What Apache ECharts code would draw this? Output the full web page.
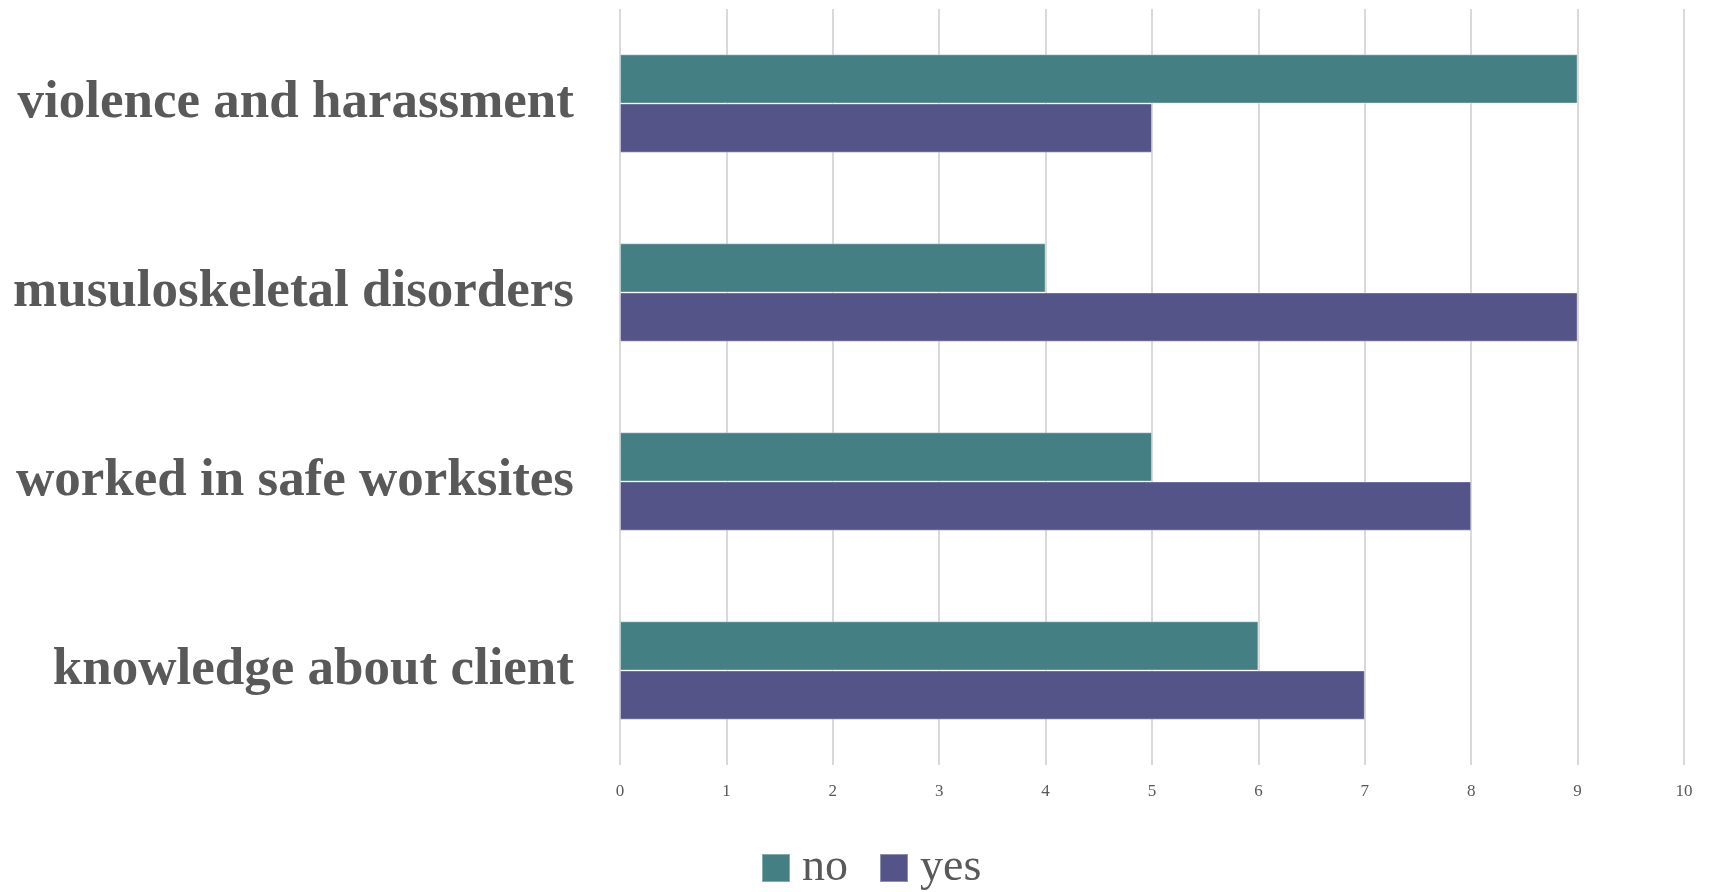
<!DOCTYPE html>
<html>
<head>
<meta charset="utf-8">
<script src="https://cdn.jsdelivr.net/npm/echarts@6/dist/echarts.min.js"></script>
<style>
  html, body { margin: 0; padding: 0; background: #fff; }
  #chart { width: 1709px; height: 892px; }
</style>
</head>
<body>
<div id="chart"></div>
<script>
    // categories top to bottom
    const categories = ['violence and harassment', 'musuloskeletal disorders', 'worked in safe worksites', 'knowledge about client']
    const noValues = [9, 4, 5, 6]
    const yesValues = [5, 9, 8, 7]
    const seriesNames = ['no', 'yes']

    const serif = '"Liberation Serif", "DejaVu Serif", serif'
    const textColor = '#595959'

    const chart = echarts.init(document.getElementById('chart'))
    const options = {
        animation: false,
        textStyle: { fontFamily: serif },
        grid: {
            left: 620,
            right: 25,
            top: 9,
            bottom: 127
        },
        legend: {
            data: seriesNames,
            left: 761,
            top: 845,
            padding: 0,
            icon: 'rect',
            itemWidth: 28,
            itemHeight: 28,
            itemGap: 31,
            textStyle: {
                fontFamily: serif,
                fontSize: 46,
                lineHeight: 28,
                color: textColor,
                padding: [0, 0, 0, 7]
            }
        },
        xAxis: {
            type: 'value',
            min: 0,
            max: 10,
            interval: 1,
            axisLine: { show: false },
            axisTick: { show: false },
            axisLabel: {
                margin: 18,
                fontFamily: serif,
                fontSize: 17,
                color: textColor
            },
            splitLine: {
                show: true,
                lineStyle: { color: '#d9d9d9', width: 2 }
            }
        },
        yAxis: {
            type: 'category',
            data: categories,
            inverse: true,
            axisLine: { show: false },
            axisTick: { show: false },
            axisLabel: {
                margin: 46,
                fontFamily: serif,
                fontWeight: 'bold',
                fontSize: 53,
                color: textColor
            }
        },
        series: [
            {
                name: 'no',
                type: 'bar',
                data: noValues,
                barGap: '0%',
                barCategoryGap: '48%',
                itemStyle: { color: '#447f84', borderColor: 'rgba(255,255,255,0.35)', borderWidth: 1 }
            },
            {
                name: 'yes',
                type: 'bar',
                data: yesValues,
                barGap: '0%',
                barCategoryGap: '48%',
                itemStyle: { color: '#545489', borderColor: 'rgba(255,255,255,0.35)', borderWidth: 1 }
            }
        ]
    }
    chart.setOption(options, true)
</script>
</body>
</html>
